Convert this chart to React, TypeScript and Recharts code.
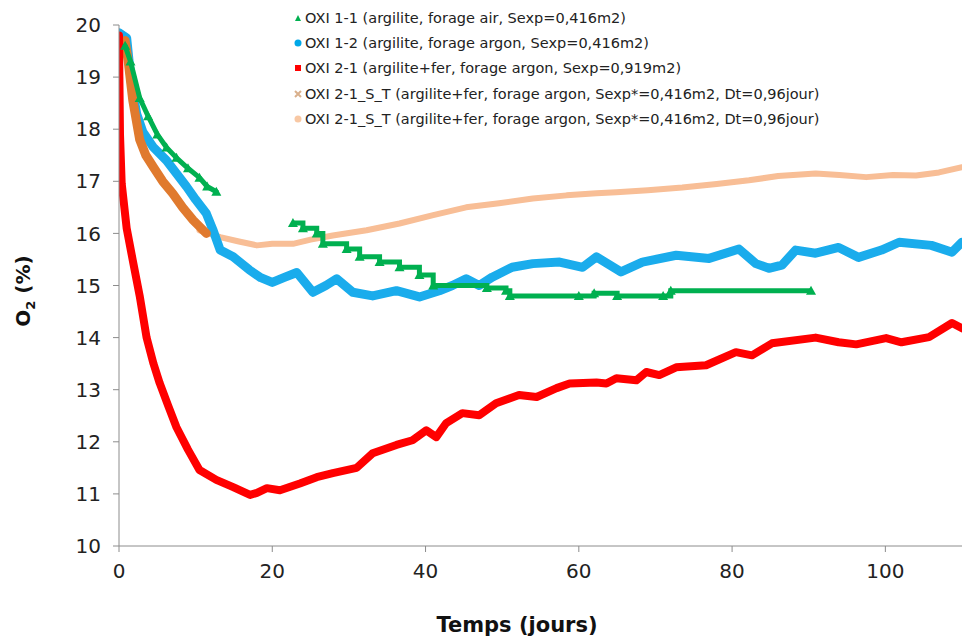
import React from 'react';
import { LineChart, Line, XAxis, YAxis, Label } from 'recharts';

// O2 (%) versus time (days)
type Pt = { t: number; o2: number };
const pts = (rows: number[][]): Pt[] => rows.map(([t, o2]) => ({ t, o2 }));

const oxi11a = pts([
  [0.8, 19.6], [1.5, 19.3], [2.7, 18.6], [3.8, 18.25], [5, 17.9], [6.2, 17.65],
  [7.5, 17.45], [9, 17.25], [10.5, 17.07], [11.5, 16.9], [12.7, 16.8],
]);

const oxi11b = pts([
  [22.7, 16.2], [24, 16.1], [25.8, 16.0], [26.6, 15.8], [29.7, 15.7], [31.4, 15.55],
  [34, 15.45], [36.6, 15.35], [39.2, 15.2], [41, 15.0], [48, 14.95], [50.5, 14.9],
  [51, 14.8], [60, 14.8], [62, 14.85], [65, 14.8], [71, 14.8], [72, 14.9], [90.3, 14.9],
]);

const oxi12 = pts([
  [0, 19.85], [1, 19.75], [1.6, 18.9], [2.3, 18.3], [3.1, 17.95], [4.5, 17.65], [6.2, 17.4],
  [7.5, 17.15], [8.8, 16.9], [10, 16.65], [11.4, 16.38], [12.3, 16.05], [13.2, 15.68],
  [14.9, 15.55], [17, 15.3], [18.5, 15.15], [20, 15.06], [21.5, 15.15], [23.2, 15.25],
  [25.3, 14.87], [27, 15.0], [28.4, 15.13], [30.5, 14.87], [33.1, 14.8], [36.2, 14.9],
  [39.2, 14.78], [41.8, 14.9], [43.5, 15.0], [45.3, 15.13], [47, 15.0], [48.7, 15.16],
  [51.3, 15.35], [54, 15.42], [57.5, 15.45], [60.5, 15.35], [62.3, 15.55], [65.5, 15.26],
  [68.3, 15.45], [72.7, 15.58], [77, 15.52], [80.9, 15.7], [83.1, 15.42], [84.8, 15.33],
  [86.5, 15.39], [88.3, 15.68], [90.9, 15.62], [93.9, 15.73], [96.5, 15.54], [99.5, 15.68],
  [101.8, 15.83], [106, 15.77], [108.7, 15.64], [110, 15.83],
]);

const oxi21 = pts([
  [0, 19.8], [0.05, 19.0], [0.13, 17.9], [0.35, 16.96], [1, 16.1], [1.8, 15.48], [2.7, 14.8],
  [3.6, 14.0], [4.5, 13.5], [5.3, 13.13], [6.4, 12.7], [7.5, 12.28], [9, 11.85], [10.5, 11.46],
  [12.7, 11.27], [14.9, 11.13], [17.1, 10.98], [18, 11.02], [19.3, 11.11], [21, 11.07],
  [23.6, 11.2], [25.8, 11.32], [27.9, 11.4], [31, 11.5], [33.1, 11.78], [36.2, 11.94],
  [38.3, 12.03], [40.1, 12.22], [41.4, 12.09], [42.7, 12.36], [44.8, 12.55], [47, 12.51],
  [49.2, 12.74], [52.2, 12.9], [54.5, 12.86], [57.1, 13.03], [58.8, 13.12], [62.3, 13.14],
  [63.6, 13.12], [64.9, 13.22], [67.5, 13.18], [68.8, 13.34], [70.5, 13.28], [72.7, 13.43],
  [76.6, 13.47], [80.5, 13.72], [82.6, 13.66], [85.2, 13.89], [90.9, 14.0], [93.9, 13.91],
  [96.2, 13.87], [100.1, 13.99], [102.1, 13.91], [105.7, 14.01], [108.7, 14.28], [110, 14.18],
]);

const oxi21stA = pts([
  [0.8, 19.7], [1.2, 19.3], [1.8, 18.55], [2.7, 17.8], [3.5, 17.5], [4.5, 17.27],
  [5.7, 17.0], [7, 16.77], [8.3, 16.5], [9.7, 16.25], [11.4, 16.0],
]);

const oxi21stB = pts([
  [10.5, 16.06], [13.2, 15.93], [15.5, 15.85], [18, 15.77], [20, 15.8], [22.7, 15.8],
  [25, 15.88], [27.9, 15.96], [32.3, 16.06], [36.6, 16.19], [41, 16.35], [45.3, 16.5],
  [49.6, 16.58], [54, 16.67], [58.4, 16.73], [62.3, 16.77], [64.9, 16.79], [69, 16.83],
  [73.5, 16.88], [78, 16.95], [82.2, 17.02], [86, 17.1], [90.9, 17.15], [94, 17.12],
  [97.5, 17.08], [101, 17.12], [104, 17.11], [107, 17.17], [110, 17.27],
]);

const xTicks = [0, 20, 40, 60, 80, 100];
const yTicks = [10, 11, 12, 13, 14, 15, 16, 17, 18, 19, 20];

const legendItems = [
  { label: 'OXI 1-1 (argilite, forage air, Sexp=0,416m2)', color: '#00B050', shape: 'tri' },
  { label: 'OXI 1-2 (argilite, forage argon, Sexp=0,416m2)', color: '#00A8E8', shape: 'dot' },
  { label: 'OXI 2-1 (argilite+fer, forage argon, Sexp=0,919m2)', color: '#FF0000', shape: 'sq' },
  { label: 'OXI 2-1_S_T (argilite+fer, forage argon, Sexp*=0,416m2, Dt=0,96jour)', color: '#D9B08C', shape: 'x' },
  { label: 'OXI 2-1_S_T (argilite+fer, forage argon, Sexp*=0,416m2, Dt=0,96jour)', color: '#F8C8A4', shape: 'dot' },
];

const Tri = (props: any) => {
  const { cx, cy } = props;
  if (cx == null || cy == null) return null;
  return <path d={`M${cx},${cy - 5}L${cx + 5},${cy + 4}L${cx - 5},${cy + 4}Z`} fill="#00B050" />;
};

const Marker = ({ shape, color }: { shape: string; color: string }) => (
  <svg width={8} height={8} style={{ marginRight: 3 }}>
    {shape === 'tri' && <path d="M4,1L7,7L1,7Z" fill={color} />}
    {shape === 'dot' && <circle cx={4} cy={4} r={3.5} fill={color} />}
    {shape === 'sq' && <rect x={1} y={1} width={6} height={6} fill={color} />}
    {shape === 'x' && <path d="M1,1L7,7M7,1L1,7" stroke={color} strokeWidth={2} />}
  </svg>
);

const ChartLegend = () => (
  <div style={{
    position: 'absolute', top: 5, left: 294,
    fontFamily: '"DejaVu Sans", sans-serif', fontSize: 14.5, color: '#222',
  }}>
    {legendItems.map((it, i) => (
      <div key={i} style={{ display: 'flex', alignItems: 'center', height: 25.4, whiteSpace: 'nowrap' }}>
        <Marker shape={it.shape} color={it.color} />
        {it.label}
      </div>
    ))}
  </div>
);

const tickFont = { fontFamily: '"DejaVu Sans", sans-serif', fontSize: 20, fill: '#222' };
const thick = { strokeLinejoin: 'round' as const, strokeLinecap: 'round' as const };

export default function App() {
  return (
    <div style={{
      position: 'absolute', left: 0, top: 0, width: 962, height: 641,
      background: '#fff', overflow: 'hidden',
    }}>
      <LineChart width={962} height={641} margin={{ top: 25, right: 0, bottom: 0, left: 0 }}>
        <XAxis
          type="number" dataKey="t" domain={[0, 110]} ticks={xTicks} allowDataOverflow
          stroke="#8c8c8c" tickSize={6} tickMargin={12} tick={tickFont} height={95}
        >
          <Label
            content={() => (
              <text x={517} y={632} textAnchor="middle" fontFamily='"DejaVu Sans", sans-serif'
                fontSize={21} fontWeight="bold" fill="#111">Temps (jours)</text>
            )}
          />
        </XAxis>
        <YAxis
          type="number" dataKey="o2" domain={[10, 20]} ticks={yTicks} allowDataOverflow
          stroke="#8c8c8c" tickSize={6} tickMargin={12} tick={tickFont} width={119}
        >
          <Label
            content={() => (
              <text x={30} y={291} transform="rotate(-90 30 291)" textAnchor="middle"
                fontFamily='"DejaVu Sans", sans-serif' fontSize={20} fontWeight="bold" fill="#111">
                O<tspan fontSize={13} dy={5}>2</tspan><tspan dy={-5}> (%)</tspan>
              </text>
            )}
          />
        </YAxis>
        <Line data={oxi21stB} dataKey="o2" stroke="#F8BE96" strokeWidth={6} dot={false} isAnimationActive={false} {...thick} />
        <Line data={oxi12} dataKey="o2" stroke="#1AACEC" strokeWidth={9} dot={false} isAnimationActive={false} {...thick} />
        <Line data={oxi21stA} dataKey="o2" stroke="#E07A2E" strokeWidth={9} dot={false} isAnimationActive={false} {...thick} />
        <Line data={oxi21} dataKey="o2" stroke="#FF0000" strokeWidth={8} dot={false} isAnimationActive={false} {...thick} />
        <Line data={oxi11a} dataKey="o2" stroke="#00B050" strokeWidth={5} dot={<Tri />} isAnimationActive={false} {...thick} />
        <Line data={oxi11b} dataKey="o2" type="stepAfter" stroke="#00B050" strokeWidth={5} dot={<Tri />} isAnimationActive={false} />
      </LineChart>
      <ChartLegend />
    </div>
  );
}
